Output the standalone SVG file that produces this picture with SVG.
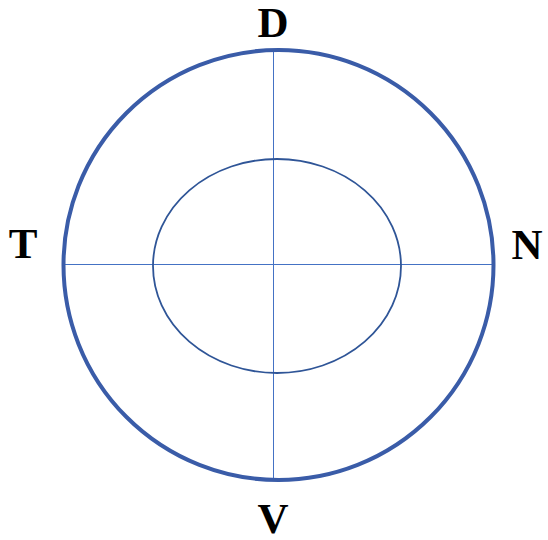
<svg xmlns="http://www.w3.org/2000/svg" width="548" height="540" viewBox="0 0 548 540">
<style>
.lbl{font-family:"Liberation Serif","Times New Roman",serif;font-weight:bold;font-size:43px;fill:#000;text-anchor:middle}
.axis{stroke:#4472c4;stroke-width:1;fill:none}
</style>
<rect width="548" height="540" fill="#fff"/>
<g id="connectors">
<line class="axis" x1="63" y1="264.5" x2="494" y2="264.5"/>
<line class="axis" x1="273.5" y1="50" x2="273.5" y2="480"/>
</g>
<g id="outer"><circle cx="278.5" cy="265" r="215" fill="none" stroke="#3a5ca8" stroke-width="4"/></g>
<g id="inner"><ellipse cx="277" cy="266" rx="124" ry="107" fill="none" stroke="#2f5597" stroke-width="1.8"/></g>
<g id="D"><text class="lbl" x="273" y="37">D</text></g>
<g id="T"><text class="lbl" x="23" y="258">T</text></g>
<g id="N"><text class="lbl" x="527" y="259">N</text></g>
<g id="V"><text class="lbl" x="273" y="533">V</text></g>
</svg>
